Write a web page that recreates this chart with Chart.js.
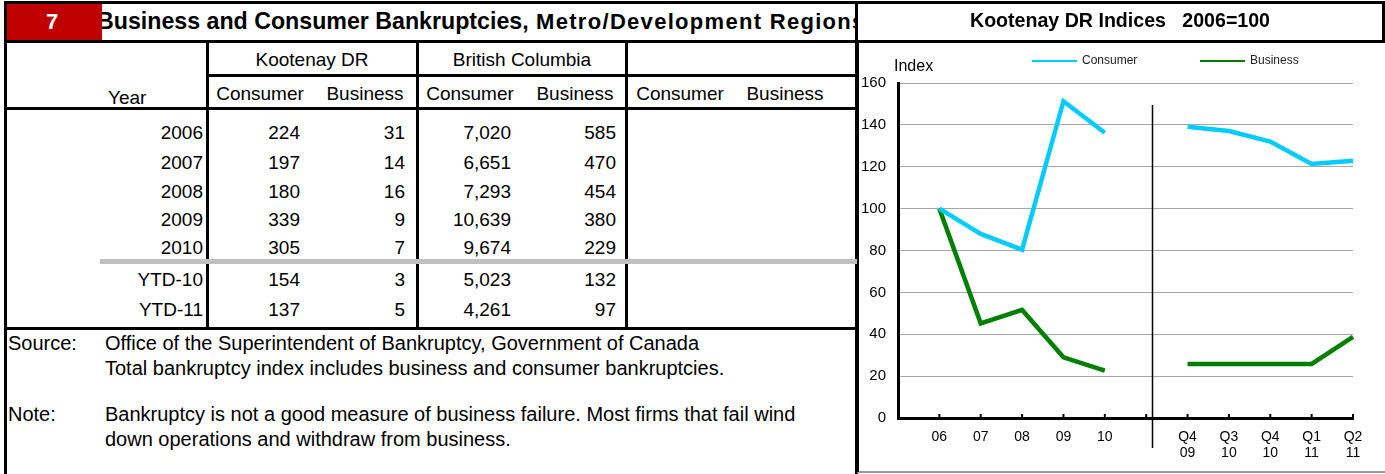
<!DOCTYPE html>
<html>
<head>
<meta charset="utf-8">
<title>Business and Consumer Bankruptcies</title>
<script src="https://cdn.jsdelivr.net/npm/chart.js@4.4.1/dist/chart.umd.min.js"></script>
<style>
body { margin:0; width:1385px; height:474px; overflow:hidden; background:#fff; position:relative;
       font-family:"Liberation Sans", Arial, sans-serif; color:#000; }
.t { position:absolute; white-space:pre; line-height:1; }
.ln { position:absolute; background:#000; }
#indexChart { position:absolute; left:858px; top:42px; }
</style>
</head>
<body>
<canvas id="indexChart" width="526" height="430"></canvas>
<script>
// table data
const years = ["2006", "2007", "2008", "2009", "2010", "YTD-10", "YTD-11"];
const kootenayConsumer = [224, 197, 180, 339, 305, 154, 137];
const kootenayBusiness = [31, 14, 16, 9, 7, 3, 5];
const bcConsumer = [7020, 6651, 7293, 10639, 9674, 5023, 4261];
const bcBusiness = [585, 470, 454, 380, 229, 132, 97];

// chart data (2006=100)
const periodLabels = ["", "06", "07", "08", "09", "10", "", ["Q4", "09"], ["Q3", "10"], ["Q4", "10"], ["Q1", "11"], ["Q2", "11"]];
const consumerIndex = [null, 100, 87.9, 80.4, 151.3, 136.2, null, 139.1, 137.1, 132.0, 121.3, 122.9];
const businessIndex = [null, 100, 45.2, 51.6, 29.0, 22.6, null, 25.8, 25.8, 25.8, 25.8, 38.7];

const FONT = "'Liberation Sans', Arial, sans-serif";

function box(x, y, w, h, color) {
	const d = document.createElement("div");
	d.className = "ln";
	d.style.cssText = "left:" + x + "px;top:" + y + "px;width:" + w + "px;height:" + h + "px;" + (color ? "background:" + color + ";" : "");
	document.body.appendChild(d);
	return d;
}

// align: l, c, r  -- y is the vertical centre
function txt(s, x, y, size, align, bold, parent) {
	const d = document.createElement("div");
	d.className = "t";
	d.textContent = s;
	let tx = align == "r" ? "-100%" : (align == "c" ? "-50%" : "0");
	d.style.cssText = "left:" + x + "px;top:" + y + "px;font-size:" + size + "px;transform:translate(" + tx + ",-50%);" + (bold ? "font-weight:bold;" : "");
	(parent || document.body).appendChild(d);
	return d;
}

// ---- left table ----
const titleClip = document.createElement("div");
titleClip.style.cssText = "position:absolute;left:97px;top:4px;width:758px;height:37px;overflow:hidden;";
document.body.appendChild(titleClip);
const title = document.createElement("div");
title.className = "t";
title.style.cssText = "left:0;top:18px;transform:translateY(-50%);font-weight:bold;";
title.innerHTML = '<span style="font-size:23.2px">Business and Consumer Bankruptcies,</span><span style="font-size:22px;letter-spacing:1.3px"> Metro/Development Regions</span>';
titleClip.appendChild(title);

const red = box(7, 4, 95, 37, "#c00000");
txt("7", 52, 22, 22, "c", true).style.color = "#fff";

// outer frame
box(4, 1, 853, 3);
box(4, 1, 3, 480);
box(855, 1, 3, 480);
box(4, 40, 853, 3);
box(207, 74, 650, 3);
box(4, 107, 853, 3);
box(4, 327, 853, 3);
[206, 416, 625].forEach(x => box(x, 41, 3, 288));
box(100, 259, 757, 5, "#c0c0c0");

// headers
const fs = 19;
txt("Kootenay DR", 312, 59, fs, "c");
txt("British Columbia", 522, 59, fs, "c");
txt("Year", 108, 97, fs, "l");
[0, 1, 2].forEach(g => {
	txt("Consumer", 260 + g * 210, 93, fs, "c");
	txt("Business", 365 + g * 210, 93, fs, "c");
});

// body rows
const rowCenters = [132, 161.5, 191, 219, 247, 278.5, 308.5];
const fmt = v => v.toLocaleString("en-US");
years.forEach((y, i) => {
	const cy = rowCenters[i];
	txt(y, 203, cy, fs, "r");
	txt(fmt(kootenayConsumer[i]), 300, cy, fs, "r");
	txt(fmt(kootenayBusiness[i]), 405, cy, fs, "r");
	txt(fmt(bcConsumer[i]), 511, cy, fs, "r");
	txt(fmt(bcBusiness[i]), 616, cy, fs, "r");
});

// footer
const ffs = 20;
txt("Source:", 8, 343, ffs, "l");
txt("Office of the Superintendent of Bankruptcy, Government of Canada", 105, 343, ffs, "l");
txt("Total bankruptcy index includes business and consumer bankruptcies.", 105, 368, ffs, "l");
txt("Note:", 8, 414, ffs, "l");
txt("Bankruptcy is not a good measure of business failure. Most firms that fail wind", 105, 414, ffs, "l");
txt("down operations and withdraw from business.", 105, 439, ffs, "l");

// ---- right panel frame ----
box(857, 1, 528, 3);
box(857, 40, 528, 3);
box(1382, 1, 3, 42);
box(857, 471, 528, 2, "#9a9a9a");
box(857, 42, 2, 430);
txt("Kootenay DR Indices   2006=100", 1120, 21, 19.6, "c", true);

// ---- chart ----
const extras = {
	id: "extras",
	afterDraw(chart) {
		const ctx = chart.ctx;
		const area = chart.chartArea;
		const xs = chart.scales.x;
		ctx.save();
		// tick marks on x axis
		ctx.strokeStyle = "#000";
		ctx.lineWidth = 2;
		for (let i = 1; i < periodLabels.length; i++) {
			const px = xs.getPixelForValue(i);
			ctx.beginPath();
			ctx.moveTo(px, area.bottom - 4);
			ctx.lineTo(px, area.bottom);
			ctx.stroke();
		}
		// divider between annual and quarterly
		const step = xs.getPixelForValue(7) - xs.getPixelForValue(6);
		const dx = Math.round(xs.getPixelForValue(6) + step * 0.13) + 0.5;
		ctx.lineWidth = 1.5;
		ctx.beginPath();
		ctx.moveTo(dx, area.top + 22);
		ctx.lineTo(dx, area.bottom + 30);
		ctx.stroke();
		// axis title
		ctx.fillStyle = "#000";
		ctx.font = "16px " + FONT;
		ctx.textBaseline = "middle";
		ctx.textAlign = "left";
		ctx.fillText("Index", area.left - 4, 25);
		// legend
		ctx.font = "12px " + FONT;
		chart.data.datasets.forEach((ds, i) => {
			const lx = 174 + i * 168;
			ctx.strokeStyle = ds.borderColor;
			ctx.lineWidth = 2;
			ctx.beginPath();
			ctx.moveTo(lx, 19);
			ctx.lineTo(lx + 45, 19);
			ctx.stroke();
			ctx.fillStyle = "#222";
			ctx.fillText(ds.label, lx + 50, 19);
		});
		ctx.restore();
	}
};

new Chart("indexChart", {
	type: "line",
	data: {
		labels: periodLabels,
		datasets: [
			{ label: "Consumer", data: consumerIndex, borderColor: "#00ccff", backgroundColor: "#00ccff",
			  borderWidth: 4.5, pointRadius: 0, tension: 0, spanGaps: false },
			{ label: "Business", data: businessIndex, borderColor: "#008000", backgroundColor: "#008000",
			  borderWidth: 4.5, pointRadius: 0, tension: 0, spanGaps: false }
		]
	},
	options: {
		responsive: false,
		animation: false,
		devicePixelRatio: 1,
		layout: { padding: { top: 41, right: 31, left: 0, bottom: 0 } },
		plugins: { legend: { display: false }, tooltip: { enabled: false } },
		scales: {
			x: {
				offset: false,
				grid: { display: true, drawOnChartArea: false, drawTicks: false },
				border: { display: true, color: "#000", width: 3 },
				ticks: { autoSkip: false, maxRotation: 0, color: "#000", padding: 11,
				         font: { size: 14, family: FONT, lineHeight: 1.15 } },
				afterFit(s) { s.height = 54; }
			},
			y: {
				min: 0,
				max: 160,
				ticks: { stepSize: 20, color: "#000", padding: 12, font: { size: 15, family: FONT } },
				grid: { color: "#a6a6a6", lineWidth: 1, drawTicks: false },
				border: { display: true, color: "#000", width: 3 },
				afterFit(s) { s.width = 40; }
			}
		}
	},
	plugins: [extras]
});
</script>
</body>
</html>
